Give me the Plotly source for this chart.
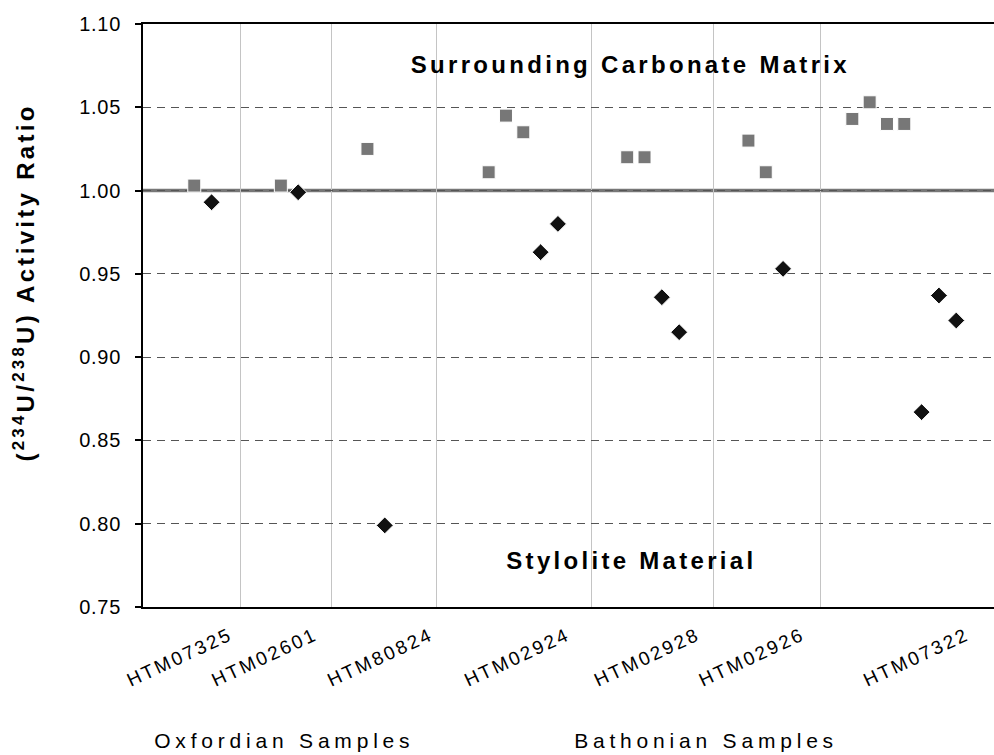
import plotly.graph_objects as go

# ---------------- data ----------------
sample_labels = ["HTM07325", "HTM02601", "HTM80824", "HTM02924",
                 "HTM02928", "HTM02926", "HTM07322"]
sample_label_pos = [2.06, 6.96, 13.65, 21.55, 29.05, 35.1, 44.6]
sample_boundaries = [2.68, 7.92, 13.98, 22.94, 29.99, 36.18]

# Surrounding carbonate matrix (grey squares)
matrix_seq = [0, 5, 10, 17, 18, 19, 25, 26, 32, 33, 38, 39, 40, 41]
matrix_ratio = [1.003, 1.003, 1.025, 1.011, 1.045, 1.035, 1.020, 1.020,
                1.030, 1.011, 1.043, 1.053, 1.040, 1.040]

# Stylolite material (black diamonds)
stylolite_seq = [1, 6, 11, 20, 21, 27, 28, 34, 42, 43, 44]
stylolite_ratio = [0.993, 0.999, 0.799, 0.963, 0.980, 0.936, 0.915,
                   0.953, 0.867, 0.937, 0.922]

y_ticks = [0.75, 0.80, 0.85, 0.90, 0.95, 1.00, 1.05, 1.10]
secular_equilibrium = 1.00

FONT = "Liberation Sans, Arial, Helvetica, sans-serif"

fig = go.Figure()
fig.add_trace(go.Scatter(
    x=matrix_seq, y=matrix_ratio, mode="markers", name="Surrounding Carbonate Matrix",
    marker=dict(symbol="square", size=13, color="#777777",
                line=dict(color="#ffffff", width=1)),
))
fig.add_trace(go.Scatter(
    x=stylolite_seq, y=stylolite_ratio, mode="markers", name="Stylolite Material",
    marker=dict(symbol="diamond", size=13, color="#111111",
                line=dict(color="#ffffff", width=1)),
))

fig.add_hline(y=secular_equilibrium, line=dict(color="#777777", width=3.5), layer="below")

fig.update_layout(
    width=994, height=755,
    margin=dict(l=143, r=0, t=24, b=148, autoexpand=False),
    paper_bgcolor="white", plot_bgcolor="white",
    showlegend=False,
    font=dict(family=FONT, color="black"),
    xaxis=dict(
        range=[-2.96, 46.18], automargin=False,
        tickmode="array", tickvals=sample_label_pos, ticktext=sample_labels,
        tickangle=-25, tickfont=dict(size=19, family=FONT, color="black"),
        ticklabelstandoff=8,
        ticks="", showgrid=False, zeroline=False,
        showline=True, linecolor="black", linewidth=2, mirror=True,
        minor=dict(tickvals=sample_boundaries, showgrid=True,
                   gridcolor="#c4c4c4", gridwidth=1, ticks=""),
    ),
    yaxis=dict(
        range=[0.75, 1.10], tickvals=y_ticks, tickformat=".2f", automargin=False,
        tickfont=dict(size=20, family=FONT, color="black"),
        ticks="outside", ticklen=6, tickwidth=1.5, tickcolor="black",
        ticklabelstandoff=10,
        showgrid=True, gridcolor="#555555", gridwidth=1, griddash="8px,6px",
        zeroline=False, showline=True, linecolor="black", linewidth=2,
    ),
    annotations=[
        dict(text="Surrounding Carbonate Matrix", xref="paper", yref="paper",
             x=0.573, y=0.93, xanchor="center", yanchor="middle", showarrow=False,
             font=dict(size=24, family=FONT, color="black", weight="bold")),
        dict(text="Stylolite Material", xref="paper", yref="paper",
             x=0.574, y=0.08, xanchor="center", yanchor="middle", showarrow=False,
             font=dict(size=24, family=FONT, color="black", weight="bold")),
        dict(text="(<sup>234</sup>U/<sup>238</sup>U) Activity Ratio",
             xref="paper", yref="paper", x=-0.14, y=0.556, textangle=-90,
             xanchor="center", yanchor="middle", showarrow=False,
             font=dict(size=24, family=FONT, color="black", weight="bold")),
        dict(text="Oxfordian Samples", xref="paper", yref="paper",
             x=0.166, y=-0.229, xanchor="center", yanchor="middle", showarrow=False,
             font=dict(size=21, family=FONT, color="black")),
        dict(text="Bathonian Samples", xref="paper", yref="paper",
             x=0.661, y=-0.229, xanchor="center", yanchor="middle", showarrow=False,
             font=dict(size=21, family=FONT, color="black")),
    ],
)

css = (
    "html,body{margin:0;padding:0;}"
    ".ytick text{letter-spacing:0.7px;}"
    ".xtick text{letter-spacing:2.5px;}"
    ".annotation[data-index='0'] text,.annotation[data-index='1'] text,"
    ".annotation[data-index='2'] text{letter-spacing:3.3px;}"
    ".annotation[data-index='3'] text,.annotation[data-index='4'] text{letter-spacing:4.8px;}"
)
post = ("var s=document.createElement('style');s.textContent=\"" + css +
        "\";document.head.appendChild(s);")

fig.write_html("out.html", post_script=post, config={"displayModeBar": False})
